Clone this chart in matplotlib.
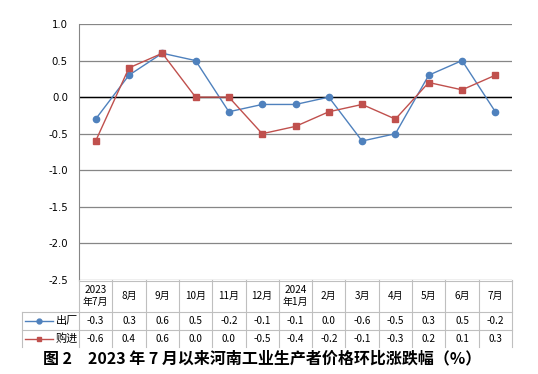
import numpy as np
import matplotlib.pyplot as plt
from matplotlib.lines import Line2D

plt.rcParams['font.family'] = ['Noto Sans CJK SC', 'DejaVu Sans']

# datos del grafico
meses = ['2023\n年7月', '8月', '9月', '10月', '11月', '12月', '2024\n年1月',
         '2月', '3月', '4月', '5月', '6月', '7月']
chuchang = [-0.3, 0.3, 0.6, 0.5, -0.2, -0.1, -0.1, 0.0, -0.6, -0.5, 0.3, 0.5, -0.2]
goujin = [-0.6, 0.4, 0.6, 0.0, 0.0, -0.5, -0.4, -0.2, -0.1, -0.3, 0.2, 0.1, 0.3]
series = ['出厂', '购进']
titulo = '图 2　2023 年 7 月以来河南工业生产者价格环比涨跌幅（%）'

azul = '#4F81BD'
rojo = '#C0504D'
gris = '#BFBFBF'

W, H = 538, 374
fig = plt.figure(figsize=(W / 100, H / 100), dpi=100)
x0, x1, ytop, ybot = 79, 512, 24, 280
ax = fig.add_axes([x0 / W, 1 - ybot / H, (x1 - x0) / W, (ybot - ytop) / H])

xs = np.arange(len(meses))
ax.plot(xs, chuchang, color=azul, lw=1.0, marker='o', ms=4.5, zorder=3)
ax.plot(xs, goujin, color=rojo, lw=1.0, marker='s', ms=4.5, zorder=3)

ax.set_xlim(-0.5, len(meses) - 0.5)
ax.set_ylim(-2.5, 1.0)
ax.set_yticks(np.arange(-2.5, 1.01, 0.5))
ax.set_yticklabels(['%.1f' % v for v in np.arange(-2.5, 1.01, 0.5)],
                   fontsize=7.3, family='DejaVu Sans')
ax.tick_params(axis='y', length=0, pad=8)
ax.set_xticks([])
ax.grid(axis='y', color='#868686', lw=0.9)
ax.axhline(0, color='black', lw=1.0, zorder=2)
for s in ['top', 'right', 'bottom']:
    ax.spines[s].set_visible(False)
ax.spines['left'].set_color('#868686')

# ==============================================================================
# Tabla de datos debajo del grafico (coordenadas en pixeles de la figura)
# ==============================================================================
def fx(px):
    return px / W


def fy(py):
    return 1 - py / H


cw = (x1 - x0) / len(meses)
for i in range(len(meses) + 1):
    xx = x0 + i * cw
    fig.add_artist(Line2D([fx(xx), fx(xx)], [fy(280), fy(347)], color=gris, lw=0.8))
fig.add_artist(Line2D([fx(22), fx(22)], [fy(312), fy(347)], color=gris, lw=0.8))
fig.add_artist(Line2D([fx(x0), fx(x1)], [fy(281), fy(281)], color=gris, lw=0.8))
for yy in [312, 330]:
    fig.add_artist(Line2D([fx(22), fx(x1)], [fy(yy), fy(yy)], color=gris, lw=0.8))

for i, m in enumerate(meses):
    xc = x0 + (i + 0.5) * cw
    fig.text(fx(xc), fy(296), m, ha='center', va='center', fontsize=7.2,
             linespacing=1.2)
    fig.text(fx(xc), fy(321), '%.1f' % chuchang[i], ha='center', va='center',
             fontsize=7.2)
    fig.text(fx(xc), fy(339), '%.1f' % goujin[i], ha='center', va='center',
             fontsize=7.2)

for yy, col, mk, nombre in [(321, azul, 'o', series[0]), (339, rojo, 's', series[1])]:
    fig.add_artist(Line2D([fx(25), fx(53)], [fy(yy), fy(yy)], color=col, lw=1.0))
    fig.add_artist(Line2D([fx(39)], [fy(yy)], color=col, marker=mk, ms=3.5))
    fig.text(fx(56), fy(yy), nombre, ha='left', va='center', fontsize=8)

fig.text(fx(262), fy(358), titulo, ha='center', va='center', fontsize=11.5,
         fontweight='bold')

plt.savefig('out.png', dpi=100)
